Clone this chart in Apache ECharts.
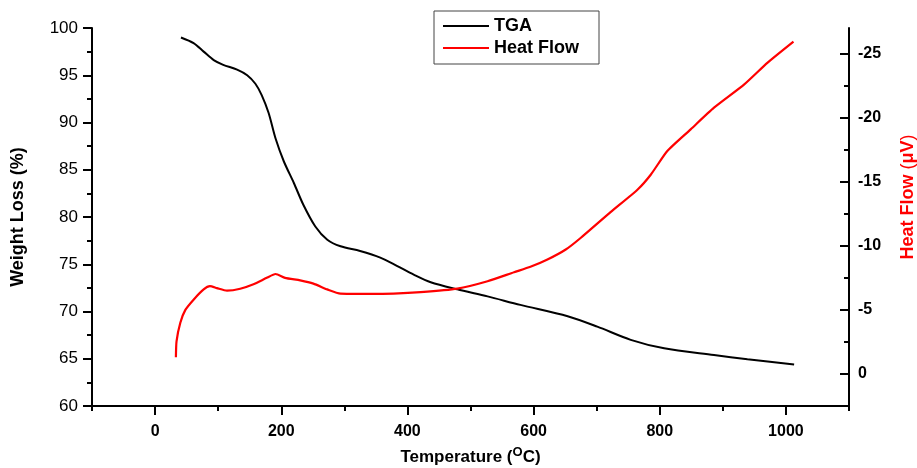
<!DOCTYPE html>
<html>
<head>
<meta charset="utf-8">
<script src="https://cdn.jsdelivr.net/npm/echarts@6/dist/echarts.min.js"></script>
<style>
html,body{margin:0;padding:0;background:#fff;}
#chart{width:917px;height:468px;}
</style>
</head>
<body>
<div id="chart"></div>
<script>
// TGA curve (weight %)
var tgaTemp = [41, 61, 77, 93, 108, 130, 146, 159, 169, 180, 191, 204, 220, 235, 254, 273, 294, 325, 357, 384, 410, 437, 479, 527, 579, 654, 701, 754, 807, 886, 939, 1013];
var tgaWeight = [99.0, 98.4, 97.5, 96.6, 96.1, 95.6, 95.0, 94.1, 92.9, 91.0, 88.3, 85.9, 83.6, 81.3, 79.0, 77.6, 76.9, 76.4, 75.7, 74.8, 73.9, 73.1, 72.35, 71.6, 70.7, 69.5, 68.4, 67.0, 66.1, 65.4, 64.95, 64.4];

// heat flow curve (uV)
var hfTemp = [33, 34, 40, 48, 61, 77, 87, 98, 114, 135, 156, 177, 191, 206, 230, 251, 273, 294, 336, 378, 421, 479, 527, 569, 595, 622, 651, 675, 722, 765, 786, 812, 849, 886, 934, 971, 1012];
var hfValue = [-1.3, -2.55, -4.0, -5.0, -5.8, -6.6, -6.85, -6.7, -6.5, -6.65, -7.0, -7.5, -7.8, -7.5, -7.3, -7.05, -6.6, -6.27, -6.25, -6.27, -6.38, -6.66, -7.24, -7.94, -8.36, -8.93, -9.71, -10.63, -12.63, -14.4, -15.57, -17.4, -19.09, -20.78, -22.6, -24.3, -25.94];

// tick labels
var xTicks = [0, 200, 400, 600, 800, 1000];
var xMinor = [-100, 100, 300, 500, 700, 900, 1100];
var hfTicks = [-25, -20, -15, -10, -5, 0];
var hfMinor = [-22.5, -17.5, -12.5, -7.5, -2.5];

function pairs(xs, ys){
    var out = [];
    for (var i = 0; i < xs.length; i++){
        out.push([xs[i], ys[i]]);
    }
    return out;
}
function plain(v){
    return String(v);
}

var font = 'Liberation Sans';
var myChart = echarts.init(document.getElementById('chart'));

var option = {
    animation: false,
    backgroundColor: '#fff',
    grid: {left: 92, right: 68, top: 28, bottom: 62, outerBoundsMode: 'none'},
    legend: {
        data: ['TGA', 'Heat Flow'],
        orient: 'vertical',
        left: 434,
        top: 11,
        padding: [5, 20, 6, 9],
        itemGap: 2,
        icon: 'rect',
        itemWidth: 46,
        itemHeight: 2,
        borderColor: '#444',
        borderWidth: 1,
        textStyle: {fontFamily: font, fontSize: 18, fontWeight: 'bold', color: '#000', lineHeight: 20}
    },
    xAxis: [{
        type: 'value',
        min: -100,
        max: 1100,
        name: 'Temperature ({sup|O}C)',
        nameLocation: 'middle',
        nameGap: 40,
        nameTextStyle: {
            fontFamily: font, fontSize: 17, fontWeight: 'bold', color: '#000',
            rich: {sup: {fontFamily: font, fontSize: 13, fontWeight: 'bold', color: '#000', padding: [0, 0, 10, 0]}}
        },
        splitLine: {show: false},
        axisLine: {onZero: false, lineStyle: {color: '#000', width: 2}},
        axisTick: {customValues: xTicks, length: 9, lineStyle: {color: '#000', width: 2}},
        axisLabel: {customValues: xTicks, formatter: plain, margin: 18, fontFamily: font, fontSize: 16, fontWeight: 'bold', color: '#000'}
    }, {
        type: 'value',
        min: -100,
        max: 1100,
        position: 'bottom',
        splitLine: {show: false},
        axisLine: {show: false, onZero: false},
        axisTick: {customValues: xMinor, length: 5, lineStyle: {color: '#000', width: 2}},
        axisLabel: {show: false}
    }],
    yAxis: [{
        type: 'value',
        min: 60,
        max: 100,
        interval: 5,
        position: 'left',
        name: 'Weight Loss (%)',
        nameLocation: 'middle',
        nameGap: 65,
        nameTextStyle: {fontFamily: font, fontSize: 18, fontWeight: 'bold', color: '#000'},
        splitLine: {show: false},
        axisLine: {show: true, onZero: false, lineStyle: {color: '#000', width: 2}},
        axisTick: {length: 9, lineStyle: {color: '#000', width: 2}},
        minorTick: {show: true, splitNumber: 2, length: 5, lineStyle: {color: '#000', width: 2}},
        axisLabel: {margin: 14, fontFamily: font, fontSize: 17, color: '#000'}
    }, {
        type: 'value',
        min: -27,
        max: 2.5,
        inverse: true,
        position: 'right',
        splitLine: {show: false},
        axisLine: {show: true, onZero: false, lineStyle: {color: '#000', width: 2}},
        axisTick: {inside: true, customValues: hfTicks, length: 9, lineStyle: {color: '#000', width: 2}},
        axisLabel: {customValues: hfTicks, formatter: plain, margin: 9, fontFamily: font, fontSize: 16, fontWeight: 'bold', color: '#000'}
    }, {
        type: 'value',
        min: -27,
        max: 2.5,
        inverse: true,
        position: 'right',
        splitLine: {show: false},
        axisLine: {show: false, onZero: false},
        axisTick: {inside: true, customValues: hfMinor, length: 5, lineStyle: {color: '#000', width: 2}},
        axisLabel: {show: false}
    }],
    graphic: [{
        type: 'text',
        x: 908,
        y: 197,
        rotation: Math.PI / 2,
        style: {
            text: 'Heat Flow {p|(}\u03bcV{p|)}',
            fontFamily: font, fontSize: 18, fontWeight: 'bold', fill: '#ff0000',
            align: 'center', verticalAlign: 'middle',
            rich: {p: {fontFamily: font, fontSize: 18, fontWeight: 'normal', fill: '#ff0000'}}
        }
    }],
    series: [{
        name: 'TGA',
        type: 'line',
        xAxisIndex: 0,
        yAxisIndex: 0,
        smooth: 0.3,
        symbol: 'none',
        lineStyle: {color: '#000', width: 2},
        itemStyle: {color: '#000'},
        data: pairs(tgaTemp, tgaWeight)
    }, {
        name: 'Heat Flow',
        type: 'line',
        xAxisIndex: 0,
        yAxisIndex: 1,
        smooth: 0.2,
        symbol: 'none',
        lineStyle: {color: '#ff0000', width: 2.2},
        itemStyle: {color: '#ff0000'},
        data: pairs(hfTemp, hfValue)
    }]
};
myChart.setOption(option);
</script>
</body>
</html>
